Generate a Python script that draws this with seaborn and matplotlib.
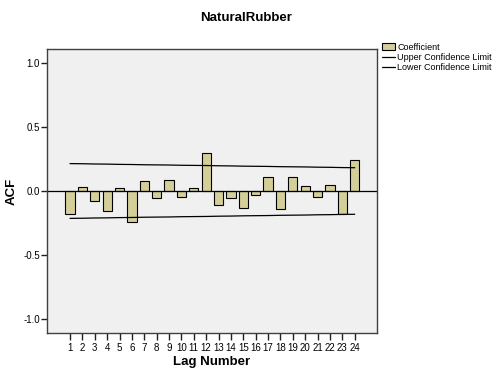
import matplotlib
matplotlib.use("Agg")
import matplotlib.pyplot as plt
import seaborn as sns
import pandas as pd
from matplotlib.patches import Patch
from matplotlib.lines import Line2D

# data
lags = list(range(1, 25))
acf = [-0.182, 0.034, -0.081, -0.156, 0.026, -0.242, 0.076, -0.057,
       0.086, -0.047, 0.026, 0.297, -0.109, -0.057, -0.130, -0.029,
       0.109, -0.138, 0.109, 0.036, -0.047, 0.047, -0.177, 0.242]
upper = [0.214, 0.213, 0.211, 0.210, 0.208, 0.207, 0.205, 0.204,
         0.203, 0.201, 0.200, 0.199, 0.197, 0.196, 0.194, 0.193,
         0.192, 0.190, 0.189, 0.188, 0.186, 0.185, 0.183, 0.182]
lower = [-u for u in upper]

df = pd.DataFrame({"lag": lags, "acf": acf, "upper": upper, "lower": lower})

sns.set_style("ticks")
plt.rcParams['font.family'] = ['Liberation Sans', 'DejaVu Sans']
plt.rcParams['text.color'] = 'black'
plt.rcParams['axes.labelcolor'] = 'black'

fig = plt.figure(figsize=(4.93, 3.71), dpi=100)
ax = fig.add_axes([0.0953, 0.1024, 0.6694, 0.7656])
ax.set_facecolor('#f0f0f0')

bar_col = '#d4cf99'
sns.barplot(data=df, x='lag', y='acf', native_scale=True, width=0.75,
            color=bar_col, edgecolor='black', linewidth=0.8, saturation=1, ax=ax)
sns.lineplot(data=df, x='lag', y='upper', color='black', linewidth=0.9, ax=ax)
sns.lineplot(data=df, x='lag', y='lower', color='black', linewidth=0.9, ax=ax)
ax.axhline(0, color='black', linewidth=0.9, zorder=1)

ax.set_xlim(-0.86, 25.8)
ax.set_ylim(-1.11, 1.11)
ax.set_xticks(lags)
ax.set_xticklabels([str(l) for l in lags])
ax.set_yticks([-1.0, -0.5, 0.0, 0.5, 1.0])
ax.set_yticklabels(['-1.0', '-0.5', '0.0', '0.5', '1.0'])
ax.tick_params(axis='both', which='major', direction='out', length=4, width=1.0,
               labelsize=7, color='#202020', labelcolor='black', pad=1,
               bottom=True, left=True, top=False, right=False)
ax.tick_params(axis='x', length=5, pad=2)
for s in ax.spines.values():
    s.set_visible(True)
    s.set_color('#404040')
    s.set_linewidth(1.0)

ax.set_xlabel('Lag Number', fontsize=9.5, fontweight='bold', labelpad=2)
ax.set_ylabel('ACF', fontsize=9.5, fontweight='bold', labelpad=4)
fig.text(0.5, 0.952, 'NaturalRubber', ha='center', va='center',
         fontsize=9.5, fontweight='bold')

handles = [Patch(facecolor=bar_col, edgecolor='black', linewidth=0.8),
           Line2D([], [], color='black', linewidth=0.9),
           Line2D([], [], color='black', linewidth=0.9)]
labels = ['Coefficient', 'Upper Confidence Limit', 'Lower Confidence Limit']
fig.legend(handles, labels, loc='upper left', bbox_to_anchor=(0.775, 0.885),
           frameon=False, fontsize=6.5, handlelength=1.4, handleheight=0.9,
           handletextpad=0.3, labelspacing=0.15, borderaxespad=0, borderpad=0)

fig.savefig('out.png', dpi=100)
